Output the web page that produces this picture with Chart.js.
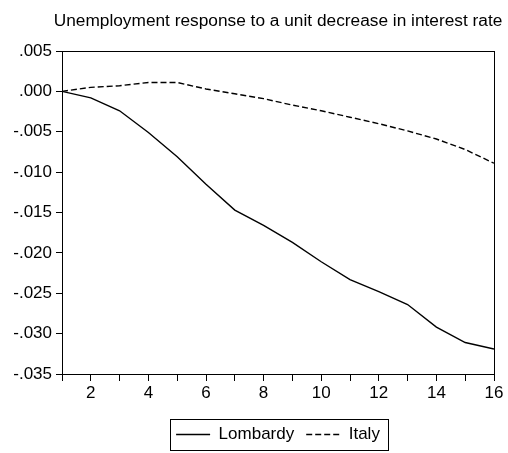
<!DOCTYPE html>
<html>
<head>
<meta charset="utf-8">
<script src="https://cdn.jsdelivr.net/npm/chart.js@4"></script>
<style>
  html, body { margin: 0; padding: 0; background: #fff; }
  #wrap { width: 508px; height: 453px; }
</style>
</head>
<body>
<div id="wrap"><canvas id="myChart" width="508" height="453"></canvas></div>
<script>
// impulse response horizon
const periods = [1, 2, 3, 4, 5, 6, 7, 8, 9, 10, 11, 12, 13, 14, 15, 16];
const lombardy = [0.0000, -0.0008, -0.0024, -0.0051, -0.0081, -0.0115, -0.0147, -0.0166,
                  -0.0187, -0.0211, -0.0233, -0.0248, -0.0264, -0.0292, -0.0311, -0.0319];
const italy = [0.0000, 0.0005, 0.0007, 0.0011, 0.0011, 0.0003, -0.0003, -0.0009,
               -0.0017, -0.0024, -0.0032, -0.0040, -0.0049, -0.0059, -0.0072, -0.0089];
const xTickLabels = ['2', '4', '6', '8', '10', '12', '14', '16'];
const seriesNames = ['Lombardy', 'Italy'];
const chartTitle = 'Unemployment response to a unit decrease in interest rate';

const FONT = 'Liberation Sans, Arial, sans-serif';

// title over the plot, frame round the plot, box round the legend
const framePlugin = {
    id: 'frame',
    afterDraw(chart) {
        const ctx = chart.ctx;
        const a = chart.chartArea;
        ctx.save();
        ctx.fillStyle = '#000';
        ctx.font = '17.3px ' + FONT;
        ctx.textAlign = 'center';
        ctx.textBaseline = 'middle';
        ctx.fillText(chartTitle, (a.left + a.right) / 2, 21);

        ctx.strokeStyle = '#000';
        ctx.lineWidth = 1;
        ctx.setLineDash([]);
        ctx.strokeRect(Math.round(a.left) + 0.5, Math.round(a.top) + 0.5,
                       Math.round(a.right - a.left), Math.round(a.bottom - a.top));
        const boxes = chart.legend.legendHitBoxes;
        if (boxes && boxes.length) {
            let l = Infinity, t = Infinity, r = -Infinity, b = -Infinity;
            boxes.forEach(h => {
                l = Math.min(l, h.left); t = Math.min(t, h.top);
                r = Math.max(r, h.left + h.width); b = Math.max(b, h.top + h.height);
            });
            ctx.strokeRect(Math.round(l - 6) + 0.5, Math.round(t - 7) + 0.5,
                           Math.round(r - l + 14), Math.round(b - t + 14));
        }
        ctx.restore();
    }
};

const ctx = document.getElementById('myChart').getContext('2d');
const myChart = new Chart(ctx, {
    type: 'line',
    data: {
        datasets: [{
            label: seriesNames[0],
            data: periods.map((p, i) => ({ x: p, y: lombardy[i] })),
            borderColor: '#000',
            backgroundColor: '#000',
            borderWidth: 1.4,
            pointRadius: 0,
            pointStyle: 'line',
            tension: 0
        }, {
            label: seriesNames[1],
            data: periods.map((p, i) => ({ x: p, y: italy[i] })),
            borderColor: '#000',
            backgroundColor: '#000',
            borderWidth: 1.4,
            borderDash: [6, 3],
            pointRadius: 0,
            pointStyle: 'line',
            tension: 0
        }]
    },
    options: {
        responsive: false,
        animation: false,
        layout: { padding: { left: 0, right: 14, top: 51, bottom: 0 } },
        plugins: {
            title: { display: false },
            legend: {
                position: 'bottom',
                fullSize: false,
                labels: {
                    color: '#000',
                    font: { family: FONT, size: 17 },
                    usePointStyle: true,
                    pointStyle: 'line',
                    pointStyleWidth: 34,
                    padding: 12,
                    generateLabels: chart =>
                        Chart.defaults.plugins.legend.labels.generateLabels(chart).map(item => ({
                            ...item,
                            lineWidth: 1.4,
                            lineDash: chart.data.datasets[item.datasetIndex].borderDash || []
                        }))
                }
            },
            tooltip: { enabled: false }
        },
        scales: {
            x: {
                type: 'linear',
                min: 1,
                max: 16,
                border: { display: false },
                grid: { drawOnChartArea: false, drawTicks: true, tickLength: 7, color: '#000' },
                ticks: {
                    stepSize: 1,
                    autoSkip: false,
                    maxRotation: 0,
                    color: '#000',
                    font: { family: FONT, size: 17 },
                    padding: 2,
                    callback: v => xTickLabels.includes(String(v)) ? String(v) : ''
                },
                afterFit: s => { s.height = 40; }
            },
            y: {
                min: -0.035,
                max: 0.005,
                border: { display: false },
                grid: { drawOnChartArea: false, drawTicks: true, tickLength: 6, color: '#000' },
                ticks: {
                    stepSize: 0.005,
                    color: '#000',
                    font: { family: FONT, size: 17 },
                    padding: 4,
                    callback: v => {
                        let s = (Math.round(v * 1000) / 1000).toFixed(3);
                        if (s === '-0.000') s = '0.000';
                        return s.replace('0.', '.');
                    }
                },
                afterFit: s => { s.width = 62; }
            }
        }
    },
    plugins: [framePlugin]
});
</script>
</body>
</html>
